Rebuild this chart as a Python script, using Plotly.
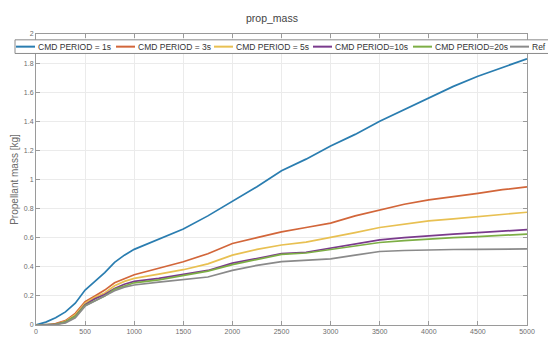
import plotly.graph_objects as go

# Simulation time [s]
time_s = [0, 100, 200, 300, 400, 500, 600, 700, 800, 900, 1000, 1250, 1500, 1750,
          2000, 2250, 2500, 2750, 3000, 3250, 3500, 3750, 4000, 4250, 4500, 4750, 5000]

# Cumulative propellant mass [kg] for each command period
mass_1s = [0, 0.02, 0.05, 0.09, 0.15, 0.24, 0.30, 0.36, 0.43, 0.48, 0.52, 0.59, 0.66, 0.75,
           0.85, 0.95, 1.06, 1.14, 1.23, 1.31, 1.40, 1.48, 1.56, 1.64, 1.71, 1.77, 1.83]
mass_3s = [0, 0, 0.01, 0.03, 0.08, 0.16, 0.20, 0.24, 0.29, 0.32, 0.345, 0.39, 0.435, 0.49,
           0.56, 0.60, 0.64, 0.67, 0.70, 0.75, 0.79, 0.83, 0.86, 0.88, 0.905, 0.93, 0.95]
mass_5s = [0, 0, 0.005, 0.025, 0.07, 0.15, 0.19, 0.22, 0.27, 0.30, 0.32, 0.35, 0.38, 0.42,
           0.48, 0.52, 0.55, 0.57, 0.60, 0.635, 0.67, 0.695, 0.715, 0.73, 0.745, 0.76, 0.775]
mass_10s = [0, 0, 0.005, 0.02, 0.06, 0.14, 0.18, 0.21, 0.25, 0.28, 0.30, 0.32, 0.345, 0.375,
            0.425, 0.46, 0.49, 0.50, 0.53, 0.56, 0.585, 0.60, 0.615, 0.625, 0.635, 0.645, 0.655]
mass_20s = [0, 0, 0.005, 0.02, 0.06, 0.135, 0.17, 0.20, 0.245, 0.27, 0.29, 0.31, 0.34, 0.37,
            0.415, 0.45, 0.485, 0.495, 0.52, 0.545, 0.567, 0.58, 0.592, 0.60, 0.607, 0.615, 0.625]
mass_ref = [0, 0, 0.003, 0.015, 0.05, 0.13, 0.165, 0.195, 0.235, 0.26, 0.275, 0.295, 0.315, 0.33,
            0.375, 0.41, 0.435, 0.445, 0.455, 0.48, 0.505, 0.512, 0.517, 0.519, 0.52, 0.522, 0.523]

series_names = ["CMD PERIOD = 1s", "CMD PERIOD = 3s", "CMD PERIOD = 5s",
                "CMD PERIOD=10s", "CMD PERIOD=20s", "Ref"]
series_values = [mass_1s, mass_3s, mass_5s, mass_10s, mass_20s, mass_ref]
series_colors = ["#2a7db0", "#d2663a", "#e8c052", "#7a3a8c", "#7dae45", "#8a8a8a"]

x_ticks = [0, 500, 1000, 1500, 2000, 2500, 3000, 3500, 4000, 4500, 5000]
y_ticks = [0, 0.2, 0.4, 0.6, 0.8, 1, 1.2, 1.4, 1.6, 1.8, 2]

W, H = 548, 347
ML, MR, MT, MB = 36, 21, 34, 14
PW, PH = W - ML - MR, H - MT - MB


def px_x(px):
    return (px - ML) / PW


def px_y(py):
    return (H - MB - py) / PH


fig = go.Figure()
for name, vals, col in zip(series_names, series_values, series_colors):
    fig.add_trace(go.Scatter(x=time_s, y=vals, mode="lines", name=name,
                             line=dict(color=col, width=1.7), showlegend=False))

axis_common = dict(showline=True, linecolor="#9a9a9a", linewidth=1, mirror="allticks",
                   ticks="inside", ticklen=4, tickcolor="#9a9a9a",
                   showgrid=True, gridcolor="#ebebeb", gridwidth=1, zeroline=False,
                   tickfont=dict(family="Liberation Sans, Arial", size=7, color="#6e6e6e"))

fig.update_xaxes(range=[0, 5000], tickvals=x_ticks, ticktext=[str(v) for v in x_ticks],
                 **axis_common)
fig.update_yaxes(range=[0, 2], tickvals=y_ticks, ticktext=[f"{v:g}" for v in y_ticks],
                 title=dict(text="Propellant mass [kg]", standoff=3,
                            font=dict(family="Liberation Sans, Arial", size=10, color="#6a6a6a")),
                 **axis_common)

# Legend box along the top of the axes
shapes = [dict(type="rect", xref="paper", yref="paper",
               x0=px_x(15), x1=px_x(556), y0=px_y(54), y1=px_y(40),
               line=dict(color="#8a8a8a", width=1), fillcolor="white", layer="above")]
annotations = []
entry_starts = [16, 116, 214, 313, 413, 510]
for start, name, col in zip(entry_starts, series_names, series_colors):
    shapes.append(dict(type="line", xref="paper", yref="paper",
                       x0=px_x(start), x1=px_x(start + 19), y0=px_y(47), y1=px_y(47),
                       line=dict(color=col, width=2), layer="above"))
    annotations.append(dict(xref="paper", yref="paper", x=px_x(start + 20), y=px_y(47),
                            text=name, showarrow=False, xanchor="left", yanchor="middle",
                            font=dict(family="Liberation Sans, Arial", size=8.5, color="#333333")))

fig.update_layout(
    width=W, height=H, autosize=False,
    margin=dict(l=ML, r=MR, t=MT, b=MB),
    paper_bgcolor="white", plot_bgcolor="white",
    title=dict(text="prop_mass", x=px_x(272), xanchor="center", xref="paper",
               y=1 - 18 / H, yanchor="middle",
               font=dict(family="Liberation Sans, Arial", size=10.5, color="#444444")),
    shapes=shapes, annotations=annotations, showlegend=False,
)

fig.write_html("out.html")
